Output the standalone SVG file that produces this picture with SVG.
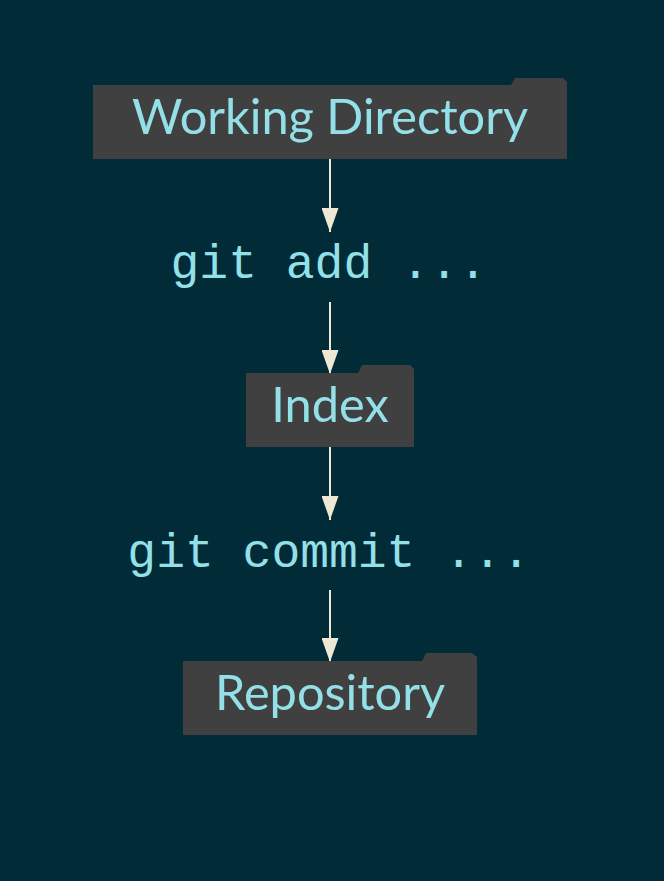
<svg xmlns="http://www.w3.org/2000/svg" width="664" height="881" viewBox="0 0 664 881">
<defs>
<style>
.node{fill:#404040;stroke:none}
.lbl{font-family:Lato,"Liberation Sans",sans-serif;font-size:48.7px;fill:#93e0e8;text-anchor:middle}
.code{font-family:"Courier New","Liberation Mono",monospace;font-size:48px;fill:#93e0e8;text-anchor:middle}
.edge{stroke:#eee8d5;stroke-width:2;fill:none}
</style>
<marker id="ah" markerUnits="userSpaceOnUse" markerWidth="24" markerHeight="17" refX="24" refY="8.5" orient="auto" viewBox="0 0 24 17">
<path d="M0,0 L24,8.5 L0,17 Z" fill="#eee8d5"/>
</marker>
</defs>
<rect width="664" height="881" fill="#012b37"/>
<g id="connectors">
<line class="edge" x1="330" y1="159" x2="330" y2="232" marker-end="url(#ah)"/>
<line class="edge" x1="330" y1="302" x2="330" y2="374" marker-end="url(#ah)"/>
<line class="edge" x1="330" y1="447" x2="330" y2="520" marker-end="url(#ah)"/>
<line class="edge" x1="330" y1="590" x2="330" y2="662" marker-end="url(#ah)"/>
</g>
<g id="working-directory">
<path class="node" d="M93,85 L511,85 L515,78 L563,78 L567,82 L567,159 L93,159 Z"/>
<text class="lbl" x="330" y="134">Working Directory</text>
</g>
<g id="git-add">
<text class="code" x="329" y="278">git add ...</text>
</g>
<g id="index">
<path class="node" d="M246,373 L358,373 L362,365 L410,365 L414,369 L414,447 L246,447 Z"/>
<text class="lbl" x="330" y="422">Index</text>
</g>
<g id="git-commit">
<text class="code" x="329" y="567">git commit ...</text>
</g>
<g id="repository">
<path class="node" d="M183,661 L422,661 L426,653 L472,653 L477,657 L477,735 L183,735 Z"/>
<text class="lbl" x="330" y="710">Repository</text>
</g>
</svg>
